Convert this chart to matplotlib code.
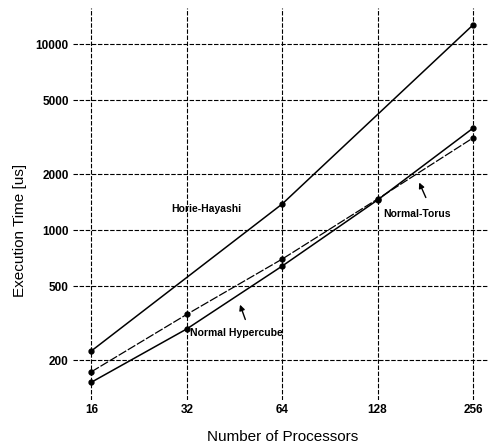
import numpy as np
import matplotlib.pyplot as plt

procs = [16, 32, 64, 128, 256]
hh_procs = [16, 64, 256]
horie_hayashi = [224, 1380, 12650]
normal_torus = [173, 352, 698, 1468, 3125]
normal_hypercube = [152, 294, 640, 1450, 3525]

yticks = [200, 500, 1000, 2000, 5000, 10000]

if __name__ == '__main__':
    plt.rcParams['font.family'] = ['Liberation Sans', 'DejaVu Sans']

    fig = plt.figure(figsize=(4.89, 4.47), dpi=100)
    ax = fig.add_axes([73 / 489, 1 - 400 / 447, 416 / 489, 392 / 447])

    ax.plot(hh_procs, horie_hayashi, color='black', lw=1.1, marker='o', ms=3.5)
    ax.plot(procs, normal_torus, color='black', lw=0.9, ls=(0, (7, 1.5)),
            marker='o', ms=3.5)
    ax.plot(procs, normal_hypercube, color='black', lw=1.1, marker='o', ms=3.5)

    ax.set_xscale('log', base=2)
    ax.set_yscale('log')
    ax.set_xlim(14.0, 287.7)
    ax.set_ylim(122, 15615)

    ax.set_xticks(procs)
    ax.set_xticklabels([str(p) for p in procs], fontsize=8.5, fontweight='bold')
    ax.set_yticks(yticks)
    ax.set_yticklabels([str(v) for v in yticks], fontsize=8.5, fontweight='bold')
    ax.minorticks_off()
    ax.tick_params(length=0, pad=3)

    for s in ax.spines.values():
        s.set_visible(False)
    ax.grid(True, color='black', ls=(0, (4, 1.5)), lw=0.8)

    ax.text(36.9, 1297, 'Horie-Hayashi', fontsize=7.5, fontweight='bold',
            ha='center', va='center')
    ax.text(133, 1219, 'Normal-Torus', fontsize=7.5, fontweight='bold',
            ha='left', va='center')
    ax.annotate('', xy=(171.8, 1858), xytext=(183.3, 1449),
                arrowprops=dict(arrowstyle='-|>', color='black', lw=1,
                                mutation_scale=8))
    ax.text(32.8, 279, 'Normal Hypercube', fontsize=7.5, fontweight='bold',
            ha='left', va='center')
    ax.annotate('', xy=(46.8, 410), xytext=(49.3, 320),
                arrowprops=dict(arrowstyle='-|>', color='black', lw=1,
                                mutation_scale=8))

    fig.text(20 / 489, 1 - 230 / 447, 'Execution Time [us]', rotation=90,
             fontsize=11, ha='center', va='center')
    fig.text(283 / 489, 1 - 437 / 447, 'Number of Processors',
             fontsize=11, ha='center', va='center')

    plt.savefig('out.png', dpi=100)
